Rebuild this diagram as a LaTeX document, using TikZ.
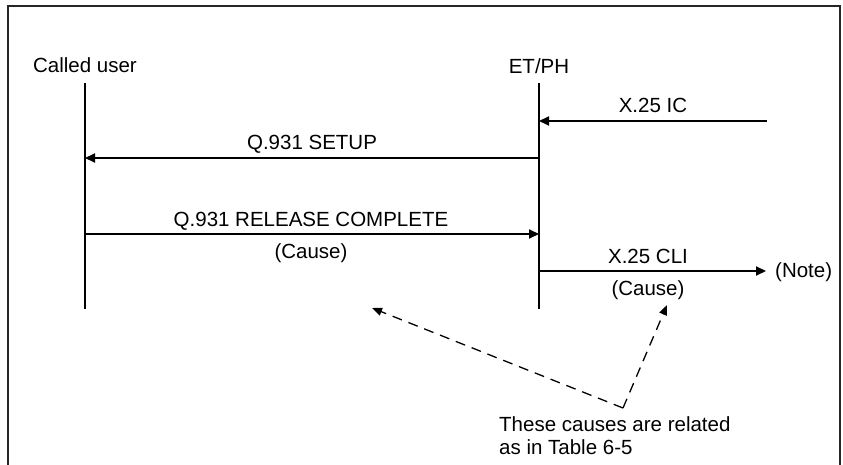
\documentclass[tikz,border=0pt]{standalone}
\usepackage{fontspec}
\setmainfont{Liberation Sans}
\usetikzlibrary{arrows.meta}
\begin{document}
\begin{tikzpicture}[x=1pt,y=-1pt,
  every node/.style={font=\fontsize{20.5}{23}\selectfont, inner sep=0pt},
  frame/.style={line width=1.3pt, black!85},
  lifeline/.style={line width=2pt},
  msg/.style={line width=2pt, -{Triangle[length=10pt,width=9pt]}},
  rel/.style={line width=1.3pt, dash pattern=on 10pt off 7pt, -{Triangle[length=10pt,width=8pt]}},
  lbl/.style={anchor=base}]
\useasboundingbox (0,0) rectangle (843,465);
% frame
\draw[frame] (8,465) -- (8,6) -- (840,6) -- (840,465);
% lifeline heads
\node[lbl] (cu) at (85,73) {Called user};
\node[lbl] (et) at (539,74) {ET/PH};
\coordinate (cuT) at (85,83);
\coordinate (cuB) at (85,309);
\coordinate (etT) at (539,83);
\coordinate (etB) at (539,309);
\draw[lifeline] (cuT) -- (cuB);
\draw[lifeline] (etT) -- (etB);
% X.25 IC
\coordinate (icS) at (767,121);
\coordinate (icE) at (539,121);
\draw[msg] (icS) -- (icE);
\node[lbl] (icL) at (653,113) {X.25 IC};
% Q.931 SETUP
\coordinate (suS) at (539,158);
\coordinate (suE) at (85,158);
\draw[msg] (suS) -- (suE);
\node[lbl] (suL) at (312,150) {Q.931 SETUP};
% Q.931 RELEASE COMPLETE
\coordinate (rcS) at (85,234);
\coordinate (rcE) at (539,234);
\draw[msg] (rcS) -- (rcE);
\node[lbl] (rcL) at (311,226) {Q.931 RELEASE COMPLETE};
\node[lbl] (rcC) at (311,258) {(Cause)};
% X.25 CLI
\coordinate (clS) at (539,271);
\coordinate (clE) at (766,271);
\draw[msg] (clS) -- (clE);
\node[lbl] (clL) at (648,263) {X.25 CLI};
\node[lbl] (clC) at (648,295) {(Cause)};
\node[anchor=west] (note) at (775,272) {(Note)};
% relation note
\coordinate (v) at (623,408);
\coordinate (t1) at (372,308);
\coordinate (t2) at (667,305);
\draw[rel] (v) -- (t1);
\draw[rel] (v) -- (t2);
\node[anchor=north west, align=left] (rel) at (499,416) {These causes are related\\as in Table 6-5};
\end{tikzpicture}
\end{document}
